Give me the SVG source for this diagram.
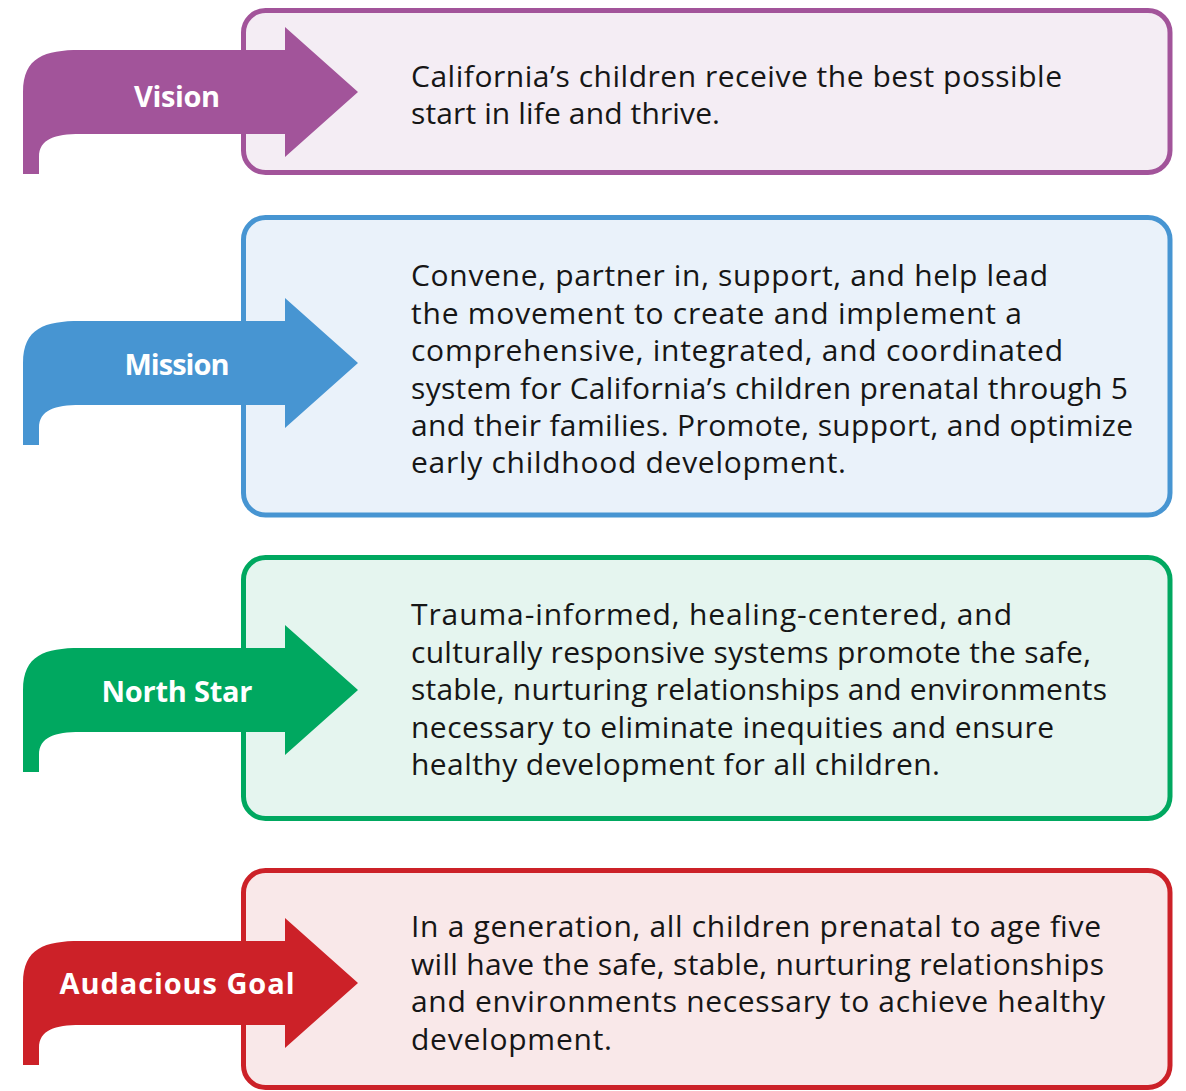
<svg xmlns="http://www.w3.org/2000/svg" width="1186" height="1091" viewBox="0 0 1186 1091">
<style>
.box{stroke-width:5}
.body{font-family:"Open Sans","Noto Sans","Liberation Sans",sans-serif;font-size:30px;fill:#161616}
.lbl{font-family:"Open Sans","Noto Sans","Liberation Sans",sans-serif;font-size:29px;font-weight:700;fill:#ffffff;text-anchor:middle}
</style>
<defs>
<path id="arrow" d="M23 82 L23 0 C23 -35 45 -42 80 -42 L285 -42 L285 -65 L358 0 L285 65 L285 42 L80 42 C55 42 39 47 39 65 L39 82 Z"/>
</defs>
<rect width="1186" height="1091" fill="#ffffff"/>
<g id="vision">
<rect class="box" x="243.5" y="10.5" width="926.5" height="162" rx="22" fill="#F4EDF4" stroke="#A2549A"/>
<use href="#arrow" transform="translate(0,92)" fill="#A2549A"/>
<text class="lbl" x="177" y="107" textLength="86">Vision</text>
<text class="body"><tspan x="411" y="87" textLength="651">California’s children receive the best possible</tspan><tspan x="411" y="124" textLength="309">start in life and thrive.</tspan></text>
</g>
<g id="mission">
<rect class="box" x="243.5" y="217.5" width="926.5" height="297.5" rx="22" fill="#EAF2FA" stroke="#4795D2"/>
<use href="#arrow" transform="translate(0,363)" fill="#4795D2"/>
<text class="lbl" x="177" y="375" textLength="105">Mission</text>
<text class="body"><tspan x="411" y="286" textLength="637">Convene, partner in, support, and help lead</tspan><tspan x="411" y="323.5" textLength="611">the movement to create and implement a</tspan><tspan x="411" y="361" textLength="652">comprehensive, integrated, and coordinated</tspan><tspan x="411" y="398.5" textLength="717">system for California’s children prenatal through 5</tspan><tspan x="411" y="436" textLength="722">and their families. Promote, support, and optimize</tspan><tspan x="411" y="473" textLength="435">early childhood development.</tspan></text>
</g>
<g id="north-star">
<rect class="box" x="243.5" y="557.5" width="926.5" height="261" rx="22" fill="#E5F5EF" stroke="#00A860"/>
<use href="#arrow" transform="translate(0,690)" fill="#00A860"/>
<text class="lbl" x="177" y="702" textLength="151">North Star</text>
<text class="body"><tspan x="411" y="625" textLength="601">Trauma-informed, healing-centered, and</tspan><tspan x="411" y="662.5" textLength="680">culturally responsive systems promote the safe,</tspan><tspan x="411" y="700" textLength="696">stable, nurturing relationships and environments</tspan><tspan x="411" y="737.5" textLength="643">necessary to eliminate inequities and ensure</tspan><tspan x="411" y="775" textLength="529">healthy development for all children.</tspan></text>
</g>
<g id="audacious-goal">
<rect class="box" x="243.5" y="870.5" width="926.5" height="217" rx="22" fill="#F9E8E9" stroke="#CC2128"/>
<use href="#arrow" transform="translate(0,983)" fill="#CC2128"/>
<text class="lbl" x="177" y="994" textLength="235">Audacious Goal</text>
<text class="body"><tspan x="411" y="937" textLength="690">In a generation, all children prenatal to age five</tspan><tspan x="411" y="974.5" textLength="693">will have the safe, stable, nurturing relationships</tspan><tspan x="411" y="1012" textLength="694">and environments necessary to achieve healthy</tspan><tspan x="411" y="1049.5" textLength="201">development.</tspan></text>
</g>
<g id="connectors"></g>
</svg>
